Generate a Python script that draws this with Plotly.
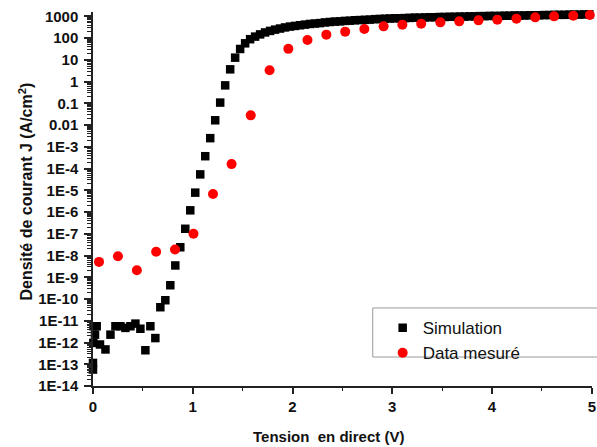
import plotly.graph_objects as go

# ---------------- data ----------------
sim_v = [0.0, 0.0, 0.003, 0.005, 0.02, 0.037, 0.07, 0.125, 0.175, 0.225, 0.275, 0.325,
         0.375, 0.425, 0.475, 0.525, 0.575, 0.625, 0.675, 0.725, 0.775, 0.825, 0.875,
         0.925, 0.975, 1.025, 1.075, 1.125, 1.175, 1.225, 1.275, 1.325, 1.375, 1.425,
         1.475, 1.525, 1.575, 1.625, 1.675, 1.725, 1.775, 1.825, 1.875, 1.925, 1.975,
         2.025, 2.075, 2.125, 2.175, 2.225, 2.275, 2.325, 2.375, 2.425, 2.475, 2.525,
         2.575, 2.625, 2.675, 2.725, 2.775, 2.825, 2.875, 2.925, 2.975, 3.025, 3.075,
         3.125, 3.175, 3.225, 3.275, 3.325, 3.375, 3.425, 3.475, 3.525, 3.575, 3.625,
         3.675, 3.725, 3.775, 3.825, 3.875, 3.925, 3.975, 4.025, 4.075, 4.125, 4.175,
         4.225, 4.275, 4.325, 4.375, 4.425, 4.475, 4.525, 4.575, 4.625, 4.675, 4.725,
         4.775, 4.825, 4.875, 4.925, 4.975]
sim_j = [5.7e-14, 1.15e-13, 9.6e-13, 5.6e-12, 2.3e-12, 5.6e-12, 8.1e-13, 4.8e-13,
         2.3e-12, 5.6e-12, 5.6e-12, 4.7e-12, 5.6e-12, 7.4e-12, 4.3e-12, 4.4e-13,
         5.6e-12, 1.6e-12, 4.2e-11, 8.8e-11, 4.3e-10, 3.5e-9, 2.4e-8, 1.7e-7, 1.2e-6,
         7.8e-6, 5.4e-5, 3.7e-4, 2.5e-3, 0.0166, 0.108, 0.67, 3.66, 12.6, 31.6,
         57.5, 89, 117, 148, 182, 214, 245, 275, 309, 339,
         363, 389, 417, 447, 468, 490, 525, 550, 575, 589, 617,
         631, 661, 676, 692, 708, 741, 759, 776, 794, 813, 813,
         832, 851, 871, 871, 891, 912, 912, 933, 933, 955, 955,
         977, 977, 1000, 1000, 1023, 1023, 1047, 1047, 1047, 1072, 1072,
         1096, 1096, 1096, 1122, 1122, 1122, 1148, 1148, 1175, 1175, 1175,
         1202, 1202, 1202, 1230, 1230]

meas_v = [0.06, 0.25, 0.44, 0.633, 0.822, 1.007, 1.203, 1.389, 1.581, 1.77, 1.958,
          2.15, 2.339, 2.528, 2.72, 2.913, 3.101, 3.29, 3.482, 3.671, 3.864, 4.053,
          4.245, 4.433, 4.622, 4.814, 4.98]
meas_j = [5.1e-9, 9.3e-9, 2.1e-9, 1.5e-8, 1.9e-8, 1.0e-7, 6.7e-6, 1.6e-4, 0.028, 3.3,
          32, 82, 144, 198, 264, 347, 415, 461, 530, 589, 655, 705, 783, 899, 1000,
          1077, 1160]

y_tickvals = [1e3, 1e2, 1e1, 1, 1e-1, 1e-2, 1e-3, 1e-4, 1e-5, 1e-6, 1e-7, 1e-8,
              1e-9, 1e-10, 1e-11, 1e-12, 1e-13, 1e-14]
y_ticktext = ["1000", "100", "10", "1", "0.1", "0.01", "1E-3", "1E-4", "1E-5", "1E-6",
              "1E-7", "1E-8", "1E-9", "1E-10", "1E-11", "1E-12", "1E-13", "1E-14"]
x_tickvals = [0, 1, 2, 3, 4, 5]
x_ticktext = ["0", "1", "2", "3", "4", "5"]

series_names = ["Simulation", "Data mesuré"]
x_title = "Tension \u00a0en direct (V)"
y_title = "Densité de courant J (A/cm<sup>2</sup>)"

# minor tick positions for the log axis (2..9 in each decade)
minor_vals = [m * 10.0 ** e for e in range(-14, 3) for m in range(2, 10)]

FONT = "Liberation Sans, Arial, sans-serif"

fig = go.Figure()
fig.add_trace(go.Scatter(
    x=sim_v, y=sim_j, mode="markers", name=series_names[0],
    marker=dict(symbol="square", size=8.5, color="#000000"), cliponaxis=False))
fig.add_trace(go.Scatter(
    x=meas_v, y=meas_j, mode="markers", name=series_names[1],
    marker=dict(symbol="circle", size=10, color="#ff0000"), cliponaxis=False))

fig.update_layout(
    width=597, height=447,
    margin=dict(l=93, r=1, t=12, b=61),
    paper_bgcolor="white", plot_bgcolor="white",
    showlegend=True,
    legend=dict(x=0.5805, y=0.203, xanchor="left", yanchor="top",
                bgcolor="rgba(0,0,0,0)", borderwidth=0,
                font=dict(family=FONT, size=17, color="#111"),
                tracegroupgap=0),
    xaxis=dict(range=[0, 5.002], tickmode="array", tickvals=x_tickvals, ticktext=x_ticktext,
               showgrid=False, zeroline=False, showline=True, linecolor="#222",
               linewidth=1.5, ticks="outside", ticklen=6, tickwidth=1.5, tickcolor="#222",
               ticklabeloverflow="allow",
               tickfont=dict(family=FONT, size=15, color="#111", weight="bold"),
               minor=dict(ticks="outside", ticklen=3, tickwidth=1.2, tickcolor="#222",
                          dtick=0.5, tick0=0, showgrid=False)),
    yaxis=dict(type="log", range=[-14, 3.2], tickmode="array", tickvals=y_tickvals,
               ticktext=y_ticktext, showgrid=False, zeroline=False, showline=True,
               linecolor="#222", linewidth=1.5, ticks="outside", ticklen=7,
               tickwidth=1.5, tickcolor="#222", ticklabelstandoff=3,
               tickfont=dict(family=FONT, size=15, color="#111", weight="bold"),
               minor=dict(ticks="outside", ticklen=4, tickwidth=1, tickcolor="#222",
                          tickmode="array", tickvals=minor_vals, showgrid=False)),
    shapes=[dict(type="rect", xref="paper", yref="paper",
                 x0=0.5606, x1=1.02, y0=0.0775, y1=0.2086,
                 line=dict(color="#9a9a9a", width=1), fillcolor="rgba(0,0,0,0)")],
    annotations=[
        dict(text=x_title, xref="paper", yref="paper", x=0.471, y=-0.136,
             xanchor="center", yanchor="middle", showarrow=False,
             font=dict(family=FONT, size=15, color="#111", weight="bold")),
        dict(text=y_title, xref="paper", yref="paper", x=-0.135, y=0.519,
             xanchor="center", yanchor="middle", showarrow=False, textangle=-90,
             font=dict(family=FONT, size=16, color="#111", weight="bold")),
    ],
)

fig.write_html(
    "out.html",
    config={"displayModeBar": False},
    post_script="document.body.style.margin='0';document.body.style.overflow='hidden';",
)
